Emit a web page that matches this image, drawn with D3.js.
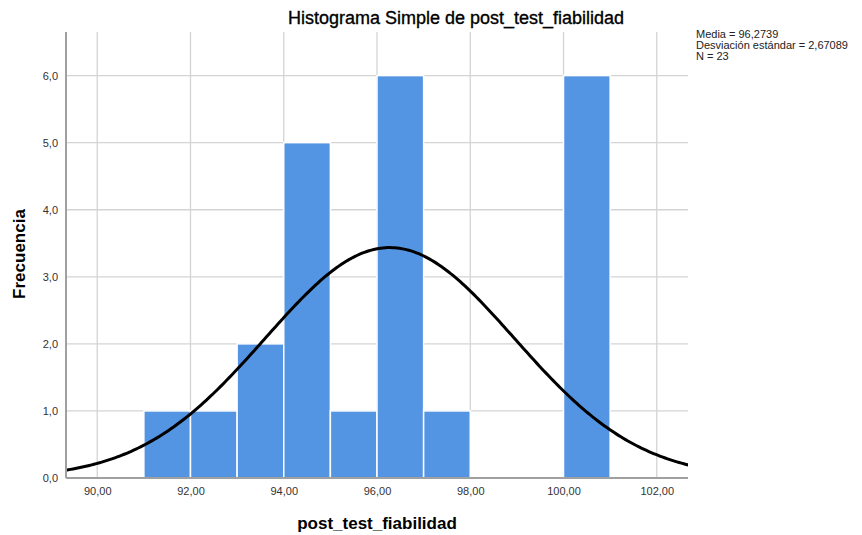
<!DOCTYPE html>
<html>
<head>
<meta charset="utf-8">
<script src="https://cdn.jsdelivr.net/npm/d3@7"></script>
<style>
  body { margin: 0; background: #fff; }
  text { font-family: "Liberation Sans", Arial, sans-serif; }
</style>
</head>
<body>
<div id="chart"></div>
<script>
// Bin starts (width 1) and counts
var binStarts = [91, 92, 93, 94, 95, 96, 97, 100];
var binCounts = [1, 1, 2, 5, 1, 6, 1, 6];
var xTicks = [90, 92, 94, 96, 98, 100, 102];
var yTicks = [0, 1, 2, 3, 4, 5, 6];
var statLines = ["Media = 96,2739", "Desviación estándar = 2,67089", "N = 23"];
var mean = 96.2739, sd = 2.67089, n = 23, binWidth = 1;

var margin = { top: 32, right: 174, bottom: 57, left: 66 },
    width = 862 - margin.left - margin.right,
    height = 535 - margin.top - margin.bottom;

var svg = d3.select("#chart")
  .append("svg")
    .attr("width", 862)
    .attr("height", 535);

var g = svg.append("g")
    .attr("transform", "translate(" + margin.left + "," + margin.top + ")");

var x = d3.scaleLinear().domain([89.33, 102.67]).range([0, width]);
var y = d3.scaleLinear().domain([0, 6.65]).range([height, 0]);

var fmt = function (v, d) { return v.toFixed(d).replace(".", ","); };

// grid lines
g.selectAll(".vgrid").data(xTicks).enter().append("line")
  .attr("x1", d => x(d)).attr("x2", d => x(d))
  .attr("y1", 0).attr("y2", height)
  .style("stroke", "#d4d4d4").style("stroke-width", 1.3);
g.selectAll(".hgrid").data(yTicks.slice(1)).enter().append("line")
  .attr("x1", 0).attr("x2", width)
  .attr("y1", d => y(d)).attr("y2", d => y(d))
  .style("stroke", "#d4d4d4").style("stroke-width", 1.3);

// bars
g.selectAll(".bar").data(binStarts).enter().append("rect")
  .attr("x", d => x(d))
  .attr("y", (d, i) => y(binCounts[i]))
  .attr("width", d => x(d + binWidth) - x(d))
  .attr("height", (d, i) => height - y(binCounts[i]))
  .style("fill", "#5495e3")
  .style("stroke", "#fff")
  .style("stroke-width", 1.5);

// normal curve fitted from mean / sd / N shown in the chart
var curvePts = d3.range(89.33, 102.68, 0.05).map(function (v) {
  var z = (v - mean) / sd;
  return [v, n * binWidth / (sd * Math.sqrt(2 * Math.PI)) * Math.exp(-0.5 * z * z)];
});
g.append("clipPath").attr("id", "clip").append("rect")
  .attr("width", width).attr("height", height);
g.append("path")
  .datum(curvePts)
  .attr("clip-path", "url(#clip)")
  .attr("d", d3.line().x(d => x(d[0])).y(d => y(d[1])))
  .style("fill", "none")
  .style("stroke", "#000")
  .style("stroke-width", 3);

// axes
var xAxis = g.append("g")
  .attr("transform", "translate(0," + height + ")")
  .call(d3.axisBottom(x).tickValues(xTicks).tickSize(0).tickPadding(9).tickFormat(d => fmt(d, 2)));
var yAxis = g.append("g")
  .call(d3.axisLeft(y).tickValues(yTicks).tickSize(0).tickPadding(8).tickFormat(d => fmt(d, 1)));
[xAxis, yAxis].forEach(function (a) {
  a.select(".domain").style("stroke", "#a0a0a0").style("stroke-width", 2);
  a.selectAll("text").style("font-size", "11px").style("fill", "#333");
});
yAxis.select(".domain").attr("d", "M0," + height + "V0");
xAxis.select(".domain").attr("d", "M0,0H" + width);

// title and axis labels
svg.append("text")
  .attr("x", 456).attr("y", 24)
  .attr("text-anchor", "middle")
  .style("font-size", "18px")
  .style("stroke", "#000").style("stroke-width", 0.35)
  .text("Histograma Simple de post_test_fiabilidad");

svg.append("text")
  .attr("x", 377).attr("y", 529)
  .attr("text-anchor", "middle")
  .style("font-size", "17px").style("font-weight", "bold")
  .text("post_test_fiabilidad");

svg.append("text")
  .attr("transform", "translate(25,254) rotate(-90)")
  .attr("text-anchor", "middle")
  .style("font-size", "17px").style("font-weight", "bold")
  .text("Frecuencia");

// statistics
svg.selectAll(".stat").data(statLines).enter().append("text")
  .attr("x", 696).attr("y", (d, i) => 38 + i * 11)
  .style("font-size", "11px").style("fill", "#222")
  .text(d => d);
</script>
</body>
</html>
